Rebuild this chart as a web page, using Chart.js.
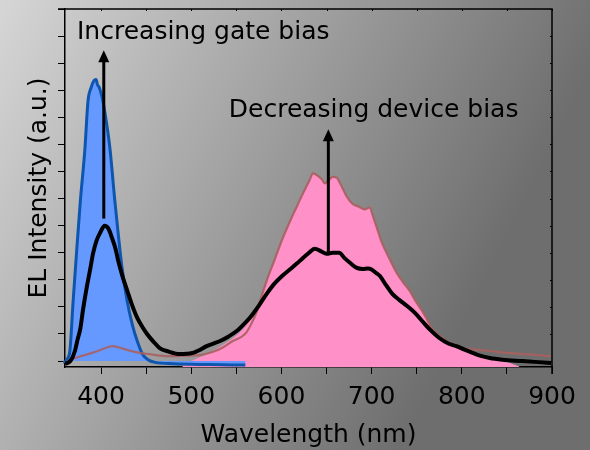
<!DOCTYPE html>
<html>
<head>
<meta charset="utf-8">
<script src="https://cdn.jsdelivr.net/npm/chart.js@4.4.1/dist/chart.umd.min.js"></script>
<style>
  html, body { margin: 0; padding: 0; background: #a0a0a0; }
  #wrap { width: 590px; height: 450px; position: relative; }
</style>
</head>
<body>
<div id="wrap"><canvas id="c" width="590" height="450"></canvas></div>
<script>
// ---------- data (wavelength in nm, intensity in a.u.) ----------
const blueWavelength = [338, 345, 352, 358, 361, 363, 365.5, 369, 373, 377, 382, 385.5, 389, 392, 394.5, 396, 398, 402, 406, 410, 415, 419, 423, 429, 435, 440, 446, 452, 460, 480, 520, 560];
const blueIntensity  = [-0.15, -0.12, -0.1, -0.05, 0.0, 0.1, 0.4, 2.2, 4.1, 5.9, 7.8, 9.6, 10.1, 10.35, 10.4, 10.2, 10.1, 9.6, 8.8, 7.8, 6.0, 4.7, 3.5, 2.2, 1.3, 0.75, 0.25, 0.05, -0.05, -0.1, -0.13, -0.15];

const redWavelength = [360, 370, 380, 390, 400, 408, 413, 420, 430, 443, 455, 465, 480, 495, 510, 525, 535, 546, 556, 561, 567, 573, 578, 584, 592, 601, 610, 617, 624, 631, 635, 640, 645, 648, 653, 657, 661, 666, 672, 679, 686, 692, 698, 701, 706, 711, 718, 727, 735, 742, 749, 756, 762, 767, 775, 783, 792, 801, 815, 831, 850, 867, 885, 899];
const redIntensity  = [-0.07, 0.1, 0.2, 0.3, 0.42, 0.52, 0.55, 0.5, 0.4, 0.3, 0.25, 0.2, 0.18, 0.2, 0.22, 0.35, 0.5, 0.74, 0.9, 1.05, 1.4, 1.85, 2.4, 3.0, 3.7, 4.5, 5.2, 5.7, 6.2, 6.67, 6.93, 6.85, 6.7, 6.56, 6.7, 6.8, 6.78, 6.5, 6.1, 5.8, 5.7, 5.6, 5.67, 5.4, 4.9, 4.4, 3.9, 3.3, 2.9, 2.6, 2.2, 1.85, 1.5, 1.2, 0.95, 0.74, 0.58, 0.48, 0.42, 0.37, 0.3, 0.26, 0.22, 0.18];

const pinkWavelength = [490, 500, 520, 540, 555, 565, 573, 578, 584, 592, 601, 610, 617, 624, 631, 635, 640, 645, 648, 653, 657, 661, 666, 672, 679, 686, 692, 698, 701, 706, 711, 718, 727, 735, 742, 749, 756, 762, 767, 775, 785, 800, 815, 830, 845, 864];
const pinkIntensity  = [-0.2, 0.0, 0.3, 0.7, 1.1, 1.5, 1.85, 2.4, 3.0, 3.7, 4.5, 5.2, 5.7, 6.2, 6.67, 6.93, 6.85, 6.7, 6.56, 6.7, 6.8, 6.78, 6.5, 6.1, 5.8, 5.7, 5.6, 5.67, 5.4, 4.9, 4.4, 3.9, 3.3, 2.9, 2.6, 2.2, 1.85, 1.5, 1.2, 0.9, 0.62, 0.4, 0.25, 0.12, 0.02, -0.2];

const blackWavelength = [360, 366, 371, 374, 377, 380, 384, 388, 391, 395, 399, 404, 408, 412, 416, 419, 424, 429, 434, 440, 446, 451, 458, 465, 475, 487, 495, 502, 510, 517, 525, 532, 541, 550, 558, 565, 575, 584, 592, 601, 610, 617, 623, 630, 637, 644, 650, 657, 664, 670, 677, 683, 690, 696, 700, 705, 709, 716, 723, 731, 739, 748, 756, 765, 775, 785, 794, 803, 812, 820, 831, 845, 867, 885, 899];
const blackIntensity  = [-0.1, 0.0, 0.37, 0.8, 1.2, 1.9, 2.7, 3.4, 3.96, 4.45, 4.74, 5.0, 4.9, 4.56, 4.15, 3.7, 3.1, 2.6, 2.1, 1.6, 1.25, 1.0, 0.72, 0.48, 0.35, 0.26, 0.27, 0.3, 0.42, 0.55, 0.65, 0.74, 0.9, 1.1, 1.35, 1.6, 2.05, 2.5, 2.85, 3.15, 3.4, 3.6, 3.78, 3.98, 4.15, 4.05, 3.96, 4.0, 4.0, 3.8, 3.6, 3.45, 3.4, 3.42, 3.38, 3.25, 3.15, 2.8, 2.48, 2.25, 2.04, 1.78, 1.48, 1.15, 0.85, 0.65, 0.55, 0.42, 0.3, 0.2, 0.11, 0.05, 0.0, -0.04, -0.07];

const xTickValues = [400, 450, 500, 550, 600, 650, 700, 750, 800, 850, 900];
const xTickLabels = ['400', '', '500', '', '600', '', '700', '', '800', '', '900'];
const yTickValues = [0, 1, 2, 3, 4, 5, 6, 7, 8, 9, 10, 11, 12, 13];

const xTitle = 'Wavelength (nm)';
const yTitle = 'EL Intensity (a.u.)';

// annotation arrows: [wavelength, from, to]; labels: [text, wavelength, intensity]
const arrowGate   = [403, 5.26, 11.48];
const arrowDevice = [652, 3.96, 8.56];
const labelGate   = ['Increasing gate bias', 373.3, 12.15];
const labelDevice = ['Decreasing device bias', 541.6, 9.26];

// ---------- helpers ----------
const pts = (xs, ys) => xs.map((x, i) => ({ x: x, y: ys[i] }));
const FONT = 'DejaVu Sans';

const bgPlugin = {
  id: 'bg',
  beforeDraw(chart) {
    const ctx = chart.ctx;
    ctx.save();
    const g = ctx.createLinearGradient(0, 0, 500, 250);
    g.addColorStop(0, '#d6d6d6');
    g.addColorStop(1, '#6e6e6e');
    ctx.fillStyle = g;
    ctx.fillRect(0, 0, chart.width, chart.height);
    ctx.restore();
  }
};

const framePlugin = {
  id: 'frame',
  afterDatasetsDraw(chart) {
    const ctx = chart.ctx;
    const a = chart.chartArea;
    const x = chart.scales.x, y = chart.scales.y;
    ctx.save();
    ctx.strokeStyle = '#000';
    ctx.lineWidth = 1.5;
    ctx.beginPath();
    ctx.moveTo(a.left - 7, a.top);
    ctx.lineTo(a.right, a.top);
    ctx.lineTo(a.right, a.bottom + 7);
    ctx.stroke();
    ctx.lineWidth = 1;
    ctx.beginPath();
    xTickValues.forEach(v => {
      const px = Math.round(x.getPixelForValue(v)) + 0.5;
      ctx.moveTo(px, a.top); ctx.lineTo(px, a.top + 2);
    });
    yTickValues.forEach(v => {
      const py = Math.round(y.getPixelForValue(v)) + 0.5;
      ctx.moveTo(a.right, py); ctx.lineTo(a.right - 2, py);
    });
    ctx.stroke();

    // arrows
    const drawArrow = (arr) => {
      const px = x.getPixelForValue(arr[0]);
      const y0 = y.getPixelForValue(arr[1]);
      const y1 = y.getPixelForValue(arr[2]);
      ctx.strokeStyle = '#000';
      ctx.fillStyle = '#000';
      ctx.lineWidth = 3;
      ctx.beginPath();
      ctx.moveTo(px, y0);
      ctx.lineTo(px, y1 + 10);
      ctx.stroke();
      ctx.beginPath();
      ctx.moveTo(px, y1);
      ctx.lineTo(px - 5.5, y1 + 12);
      ctx.lineTo(px + 5.5, y1 + 12);
      ctx.closePath();
      ctx.fill();
    };
    drawArrow(arrowGate);
    drawArrow(arrowDevice);

    ctx.font = '25px "' + FONT + '"';
    ctx.textAlign = 'left';
    ctx.textBaseline = 'middle';
    ctx.fillStyle = '#000';
    [labelGate, labelDevice].forEach(l => {
      ctx.fillText(l[0], x.getPixelForValue(l[1]), y.getPixelForValue(l[2]));
    });
    ctx.restore();
  }
};

new Chart(document.getElementById('c'), {
  type: 'scatter',
  data: {
    datasets: [
      {
        label: 'device bias (final)',
        data: pts(blackWavelength, blackIntensity),
        showLine: true, borderColor: '#000000', borderWidth: 4,
        pointRadius: 0, fill: false, cubicInterpolationMode: 'monotone', order: 1
      },
      {
        label: 'device bias (initial)',
        data: pts(redWavelength, redIntensity),
        showLine: true, borderColor: 'rgba(170, 95, 95, 0.9)', borderWidth: 2.2,
        pointRadius: 0, fill: false, cubicInterpolationMode: 'monotone', order: 2
      },
      {
        label: 'gate bias',
        data: pts(blueWavelength, blueIntensity),
        showLine: true, borderColor: '#0d55ad', borderWidth: 3,
        backgroundColor: '#6699ff',
        pointRadius: 0, fill: 'origin', cubicInterpolationMode: 'monotone', order: 3,
        clip: { left: 30, right: 0, top: 0, bottom: 5 }
      },
      {
        label: 'device bias fill',
        data: pts(pinkWavelength, pinkIntensity),
        showLine: true, borderWidth: 0, borderColor: 'rgba(0,0,0,0)',
        backgroundColor: '#ff90c8',
        pointRadius: 0, fill: 'start', cubicInterpolationMode: 'monotone', order: 4
      }
    ]
  },
  options: {
    responsive: false,
    animation: false,
    events: [],
    layout: { padding: { top: 9, right: 38, left: 24, bottom: 0 } },
    plugins: { legend: { display: false }, tooltip: { enabled: false } },
    scales: {
      x: {
        type: 'linear', min: 360, max: 900,
        afterBuildTicks: (axis) => { axis.ticks = xTickValues.map(v => ({ value: v })); },
        ticks: {
          callback: (v) => { const i = xTickValues.indexOf(v); return i >= 0 ? xTickLabels[i] : ''; },
          color: '#000', font: { family: FONT, size: 25 }, padding: 8, maxRotation: 0, autoSkip: false
        },
        grid: { drawOnChartArea: false, drawTicks: true, tickLength: 7, color: '#000', lineWidth: 1 },
        border: { display: true, color: '#000', width: 1.5 },
        title: { display: true, text: xTitle, color: '#000', font: { family: FONT, size: 25 }, padding: { top: 0, bottom: 0 } }
      },
      y: {
        type: 'linear', min: -0.22, max: 13,
        afterBuildTicks: (axis) => { axis.ticks = yTickValues.map(v => ({ value: v })); },
        ticks: { callback: () => '', padding: 0, font: { family: FONT, size: 2 } },
        grid: { drawOnChartArea: false, drawTicks: true, tickLength: 7, color: '#000', lineWidth: 1 },
        border: { display: true, color: '#000', width: 1.5 },
        title: { display: true, text: yTitle, color: '#000', font: { family: FONT, size: 25 }, padding: { top: 0, bottom: 4 } }
      }
    }
  },
  plugins: [bgPlugin, framePlugin]
});
</script>
</body>
</html>
